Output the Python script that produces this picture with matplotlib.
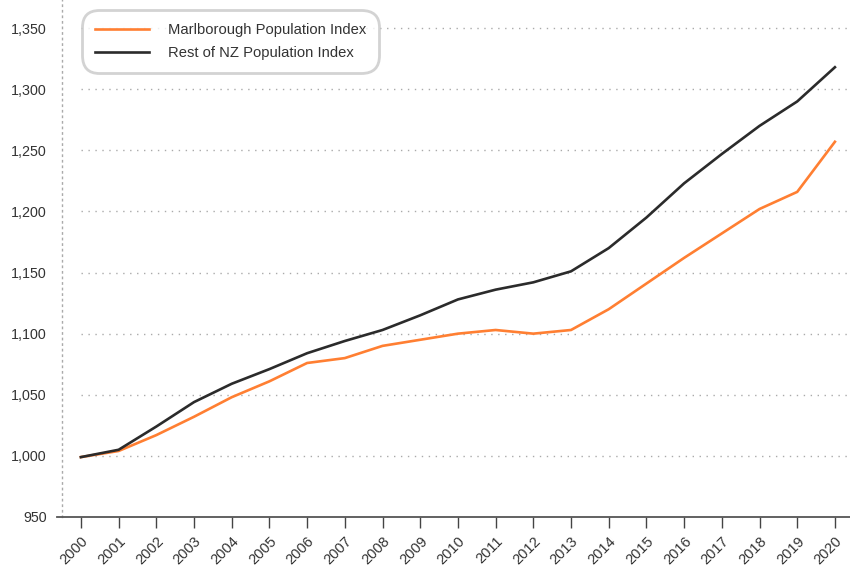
import matplotlib
matplotlib.use("Agg")
import matplotlib.pyplot as plt
from matplotlib.ticker import FuncFormatter

years = list(range(2000, 2021))
marlborough = [999, 1004, 1017, 1032, 1048, 1061, 1076, 1080, 1090, 1095, 1100,
               1103, 1100, 1103, 1120, 1141, 1162, 1182, 1202, 1216, 1257]
rest_of_nz = [999, 1005, 1024, 1044, 1059, 1071, 1084, 1094, 1103, 1115, 1128,
              1136, 1142, 1151, 1170, 1195, 1223, 1247, 1270, 1290, 1318]
y_ticks = [950, 1000, 1050, 1100, 1150, 1200, 1250, 1300, 1350]
series_labels = ["Marlborough Population Index", "Rest of NZ Population Index"]

plt.rcParams['font.family'] = ['Liberation Sans', 'DejaVu Sans']

fig = plt.figure(figsize=(8.5, 5.69), dpi=100)
ax = fig.add_axes([0.073, 0.0914, 0.927, 0.9086])

orange = "#FF7F32"
dark = "#2B2B2B"
text_col = "#333333"

x_lo, x_hi = 1999.5, 2020.4
ax.set_xlim(x_lo, x_hi)
ax.set_ylim(950, 1373)

# dotted horizontal guides
for yv in y_ticks[1:]:
    ax.hlines(yv, 2000, x_hi, colors="#AAAAAA", linestyles=(0, (1, 4)), linewidth=1, zorder=1)

ax.plot(years, marlborough, color=orange, linewidth=1.9, label=series_labels[0], zorder=3)
ax.plot(years, rest_of_nz, color=dark, linewidth=1.9, label=series_labels[1], zorder=3)

ax.set_yticks(y_ticks)
ax.yaxis.set_major_formatter(FuncFormatter(lambda v, p: f"{int(v):,}"))
ax.tick_params(axis='y', length=0, pad=11, labelsize=10.3, labelcolor=text_col)

ax.set_xticks(years)
ax.set_xticklabels([str(y) for y in years], rotation=45, ha='right', rotation_mode='anchor')
ax.tick_params(axis='x', length=8, width=1, color="#444444", pad=4, labelsize=10.5, labelcolor=text_col)

for s in ['top', 'right']:
    ax.spines[s].set_visible(False)
ax.spines['left'].set_color("#AAAAAA")
ax.spines['left'].set_linestyle((0, (1, 3)))
ax.spines['left'].set_linewidth(1)
ax.spines['bottom'].set_color("#555555")
ax.spines['bottom'].set_linewidth(1.3)
ax.spines['bottom'].set_bounds(x_lo - 0.13, x_hi)

leg = ax.legend(loc='upper left', bbox_to_anchor=(0.025, 0.981), frameon=True, fancybox=True,
                fontsize=10.6, handlelength=3.7, handletextpad=1.25, borderpad=0.88,
                labelspacing=0.62, borderaxespad=0)
frame = leg.get_frame()
frame.set_edgecolor("#C8C8C8")
frame.set_linewidth(2)
frame.set_boxstyle("round,pad=0,rounding_size=1.2")
for t in leg.get_texts():
    t.set_color(text_col)

fig.savefig("out.png", dpi=100)
